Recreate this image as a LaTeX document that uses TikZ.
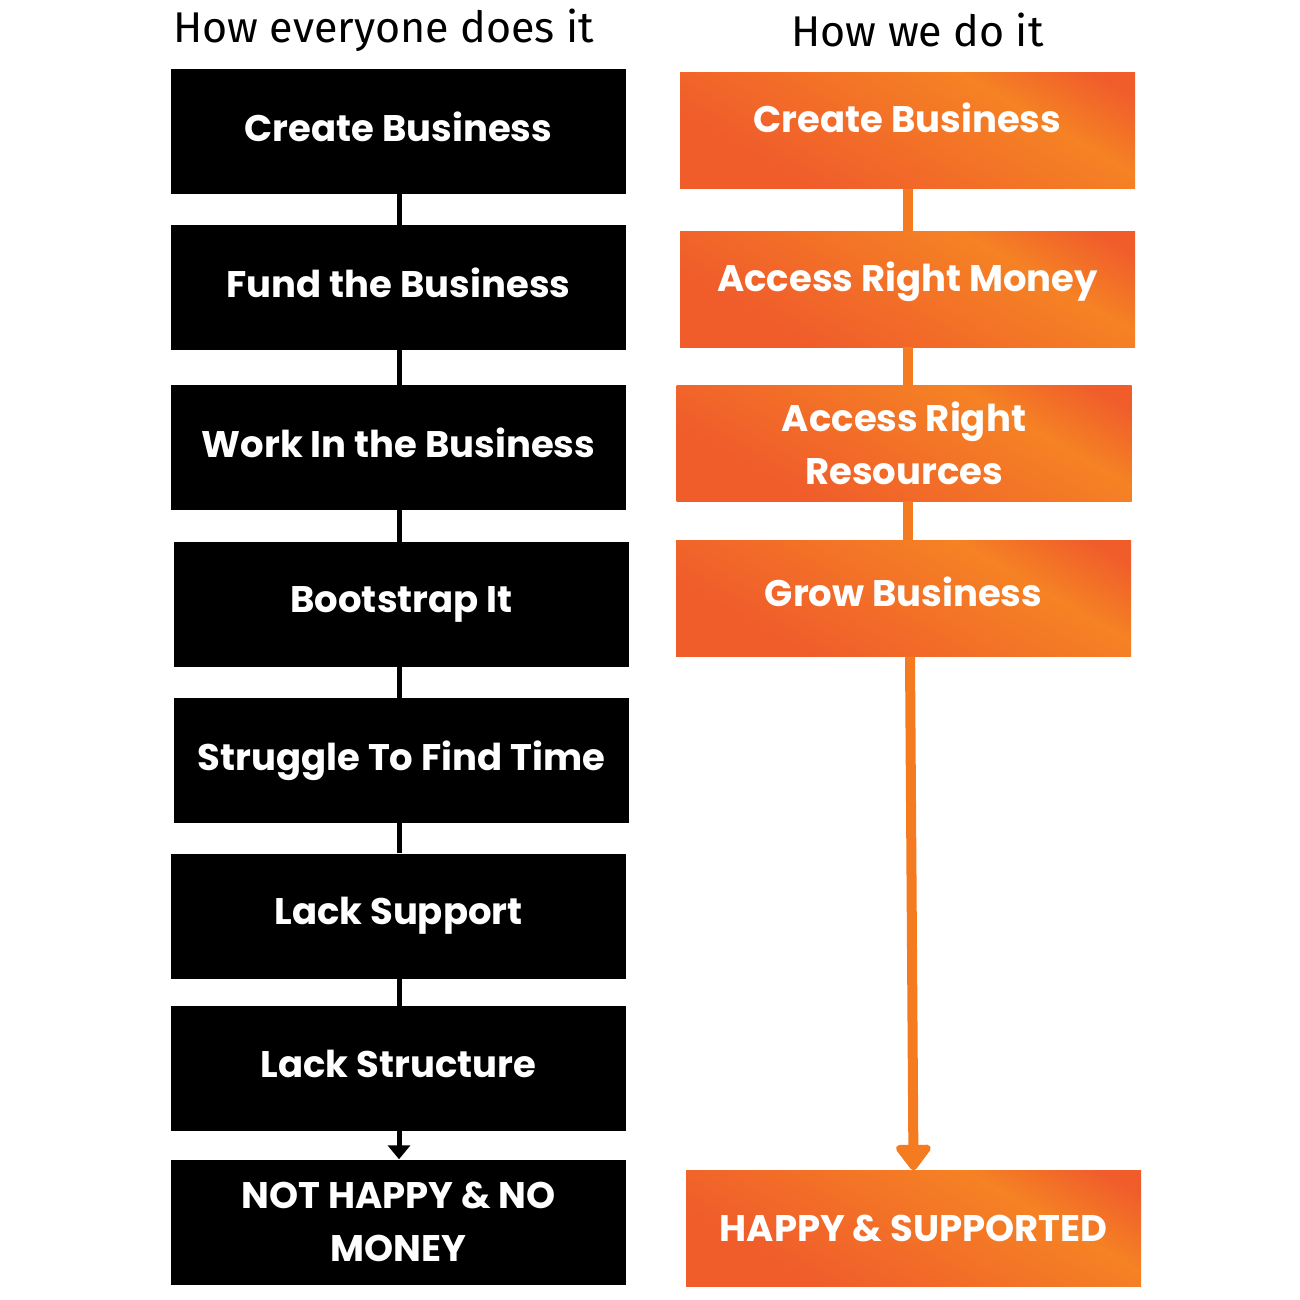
\documentclass[tikz,border=0pt]{standalone}
\usepackage{fontspec}
\setmainfont{Poppins}
\newfontfamily\headfont{Fira Sans}
\usetikzlibrary{arrows.meta}

\definecolor{oRed}{HTML}{F05D2B}
\definecolor{oLight}{HTML}{F58224}
\definecolor{oLine}{HTML}{F47B20}
\pgfdeclarehorizontalshading{orangeramp}{100bp}{color(0bp)=(oRed); color(30bp)=(oRed);
  color(66bp)=(oLight); color(80bp)=(oRed); color(100bp)=(oRed)}

\tikzset{
  blackbox/.style={fill=black, text=white, minimum width=455pt, minimum height=125pt,
    align=center, font=\fontsize{37}{53}\selectfont\bfseries},
  orangebox/.style={shading=orangeramp, shading angle=60, text=white, minimum width=455pt,
    minimum height=116pt, align=center, font=\fontsize{37}{53}\selectfont\bfseries},
  lift/.style={text depth=#1},
  head/.style={font=\headfont\fontsize{43}{45}\selectfont}
}

\begin{document}
\begin{tikzpicture}[x=1pt,y=-1pt]
  \useasboundingbox (0,0) rectangle (1300,1300);
  \node[head] (h1) at (383.5,30) {How everyone does it};
  \node[head] (h2) at (917.5,30) {How we do it};
  % left column
  \foreach \n/\x/\y/\t in {b1/398.5/131.5/Create Business,
    b2/398.5/287.5/Fund the Business,
    b3/398.5/447.5/Work In the Business,
    b4/401.5/604.5/Bootstrap It,
    b5/401.5/760.5/Struggle To Find Time,
    b6/398.5/916/Lack Support,
    b7/398.5/1068.5/Lack Structure}
    \node[blackbox, lift=10pt] (\n) at (\x,\y) {\t};
  \node[blackbox] (b8) at (398.5,1222) {NOT HAPPY \& NO\\MONEY};
  \foreach \a/\b in {b1/b2,b2/b3,b3/b4,b4/b5,b5/b6,b6/b7}
    \draw[line width=5pt] (\b.north -| 399,0) -- (\a.south -| 399,0);
  \draw[line width=5pt, -{Triangle[width=22pt,length=14pt]}] (b7.south -| 399,0) -- (b8.north -| 399,0);
  % right column
  \node[orangebox, lift=26pt] (o1) at (907.5,131) {Create Business};
  \node[orangebox, lift=24pt] (o2) at (907.5,289) {Access Right Money};
  \node[orangebox] (o3) at (904,443) {Access Right\\Resources};
  \node[orangebox, lift=14pt] (o4) at (903.5,598.5) {Grow Business};
  \node[orangebox] (o5) at (913.5,1228.5) {HAPPY \& SUPPORTED};
  \foreach \a/\b in {o1/o2,o2/o3,o3/o4}
    \draw[oLine, line width=10pt] (\a.south -| 908,0) -- (\b.north -| 908,0);
  \draw[oLine, line width=10pt, -{Triangle[round,width=40pt,length=28pt]}]
    ([xshift=6.5pt]o4.south) -- (o5.north);
\end{tikzpicture}
\end{document}
